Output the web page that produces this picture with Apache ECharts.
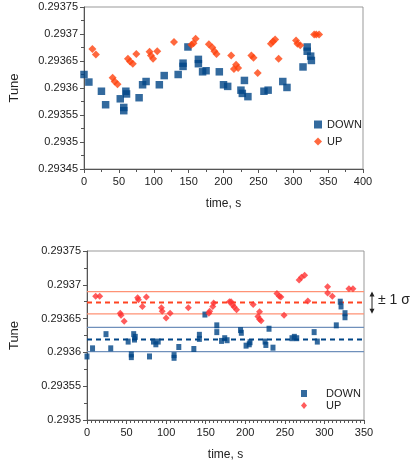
<!DOCTYPE html>
<html>
<head>
<meta charset="utf-8">
<script src="https://cdn.jsdelivr.net/npm/echarts@6/dist/echarts.min.js"></script>
<style>
html,body{margin:0;padding:0;background:#fff;}
#chart{width:412px;height:468px;}
</style>
</head>
<body>
<div id="chart"></div>
<script>
// ---- Top chart data: [time s, tune] ----
var topDown = [[0,0.293625],[7,0.293611],[25,0.293594],[31,0.293569],[52,0.29358],[57,0.293564],[57,0.293558],[60,0.293594],[61,0.293589],[79,0.293582],[84,0.293606],[89,0.293612],[108,0.293606],[115,0.293623],[135,0.293625],[142,0.293646],[142,0.29364],[149,0.293676],[164,0.293653],[164,0.293645],[170,0.29363],[175,0.293632],[194,0.29363],[200,0.293606],[206,0.293603],[225,0.293596],[227,0.29359],[230,0.293614],[235,0.293584],[258,0.293594],[264,0.293596],[285,0.293612],[291,0.293601],[314,0.293639],[320,0.293676],[320,0.293668],[325,0.293659],[326,0.293651]];
var topUp = [[12,0.293672],[17,0.293662],[41,0.293619],[44,0.293612],[48,0.293607],[63,0.293654],[66,0.293649],[70,0.293645],[75,0.293663],[94,0.293667],[96,0.29366],[99,0.293654],[105,0.293668],[129,0.293685],[154,0.29368],[157,0.293683],[160,0.293691],[179,0.293681],[184,0.293675],[187,0.293668],[190,0.293663],[211,0.29366],[215,0.293635],[218,0.293643],[221,0.293637],[240,0.29366],[243,0.293656],[249,0.293628],[268,0.293682],[271,0.293686],[274,0.29369],[279,0.293654],[304,0.293688],[306,0.293682],[310,0.293679],[330,0.293699],[333,0.293699],[337,0.293699]];

// ---- Bottom chart data ----
var botDown = [[0,0.293594],[7,0.293606],[24,0.293627],[30,0.293606],[52,0.293616],[56,0.293597],[56,0.293593],[59,0.293627],[61,0.293623],[60,0.293619],[79,0.293594],[84,0.293616],[87,0.293612],[90,0.293616],[110,0.293596],[110,0.293592],[116,0.293608],[135,0.293605],[142,0.293626],[142,0.29362],[149,0.293656],[164,0.29364],[164,0.29363],[170,0.293617],[174,0.293621],[177,0.293618],[194,0.293633],[195,0.293629],[201,0.29361],[205,0.293612],[206,0.293615],[225,0.293616],[226,0.293611],[230,0.293635],[235,0.293607],[259,0.293621],[262,0.293623],[265,0.293621],[287,0.29363],[291,0.293616],[315,0.29364],[320,0.293675],[321,0.293668],[326,0.293658],[326,0.293652]];
var botUp = [[11,0.293683],[16,0.293683],[42,0.293658],[43,0.293655],[47,0.293646],[64,0.293681],[65,0.293678],[70,0.293668],[75,0.293682],[94,0.293666],[95,0.293661],[100,0.293651],[105,0.293658],[128,0.293666],[154,0.293658],[155,0.293661],[159,0.293668],[160,0.293673],[180,0.293675],[182,0.293675],[184,0.29367],[186,0.293667],[189,0.293663],[210,0.293671],[216,0.293653],[218,0.29366],[218,0.293649],[220,0.293647],[240,0.293687],[243,0.293683],[245,0.293682],[249,0.293655],[268,0.293707],[271,0.293711],[275,0.293714],[279,0.293676],[304,0.293697],[304,0.293688],[310,0.293683],[331,0.293694],[336,0.293694]];

// mean and +/- 1 sigma levels: [upper, mean, lower]
var upLevels = [0.29369, 0.293674, 0.293657];
var downLevels = [0.293637, 0.293619, 0.293601];

// axes
var topYMin = 0.29345, topYMax = 0.29375, topXMax = 400;
var botYMin = 0.2935, botYMax = 0.29375, botXMax = 350;
var yStep = 0.00005, xStep = 50;
var seriesNames = ['DOWN', 'UP'];
var sigmaLabel = '± 1 σ';

var BLUE = '#004586', ORANGE = '#ff420e', RED = '#ff3333';
var FONT = 'Liberation Sans, Arial, sans-serif';
var TXT = '#222';

function yFmt(v){ return String(+v.toFixed(5)); }

function xAx(idx, max, minorSplit, gap){
  return {
    type:'value', gridIndex: idx, min:0, max:max, interval:xStep,
    name:'time, s', nameLocation:'middle', nameGap:gap,
    nameTextStyle:{fontFamily:FONT, fontSize:12, color:TXT},
    axisLine:{show:true, lineStyle:{color:'#555', width:1}},
    axisTick:{show:true, length:4, lineStyle:{color:'#555'}},
    minorTick:{show:true, splitNumber:minorSplit, length:3, lineStyle:{color:'#555'}},
    axisLabel:{fontFamily:FONT, fontSize:11, color:TXT, margin:7},
    splitLine:{show:false}
  };
}
function yAx(idx, min, max, gap){
  return {
    type:'value', gridIndex: idx, min:min, max:max, interval:yStep,
    name:'Tune', nameLocation:'middle', nameGap:gap, nameRotate:90,
    nameTextStyle:{fontFamily:FONT, fontSize:13, color:TXT},
    axisLine:{show:true, lineStyle:{color:'#555', width:1}},
    axisTick:{show:true, length:4, lineStyle:{color:'#555'}},
    minorTick:{show:true, splitNumber:2, length:3, lineStyle:{color:'#555'}},
    axisLabel:{fontFamily:FONT, fontSize:11, color:TXT, margin:6, formatter:yFmt},
    splitLine:{show:false}
  };
}

// horizontal level lines drawn as line series across the bottom plot
function levelSeries(level, color, dashed){
  return {
    type:'line', xAxisIndex:1, yAxisIndex:1, silent:true, symbol:'none', z:2,
    data:[[0, level], [botXMax, level]],
    lineStyle:{color:color, width: dashed ? 2 : 1.2, type: dashed ? [5,4] : 'solid'},
    tooltip:{show:false}
  };
}

var chart = echarts.init(document.getElementById('chart'), null, {renderer:'canvas'});
var series = [
  {name:seriesNames[0], type:'scatter', xAxisIndex:0, yAxisIndex:0, data:topDown,
   symbol:'rect', symbolSize:7.5, itemStyle:{color:BLUE}, z:3},
  {name:seriesNames[1], type:'scatter', xAxisIndex:0, yAxisIndex:0, data:topUp,
   symbol:'diamond', symbolSize:8, itemStyle:{color:ORANGE}, z:3},
  levelSeries(upLevels[0], '#ff9275', false),
  levelSeries(upLevels[1], '#ff4422', true),
  levelSeries(upLevels[2], '#ff9275', false),
  levelSeries(downLevels[0], '#6f90bb', false),
  levelSeries(downLevels[1], BLUE, true),
  levelSeries(downLevels[2], '#6f90bb', false),
  {name:seriesNames[0], type:'scatter', xAxisIndex:1, yAxisIndex:1, data:botDown,
   symbol:'rect', symbolSize:[5,6], itemStyle:{color:BLUE}, z:4},
  {name:seriesNames[1], type:'scatter', xAxisIndex:1, yAxisIndex:1, data:botUp,
   symbol:'diamond', symbolSize:7, itemStyle:{color:RED}, z:4}
];
var option = {
  animation:false,
  backgroundColor:'#fff',
  textStyle:{fontFamily:FONT},
  grid:[
    {left:75, top:7, width:288, height:162, show:true, borderColor:'#999', borderWidth:1, backgroundColor:'transparent'},
    {left:77, top:251, width:287, height:169, show:true, borderColor:'#999', borderWidth:1, backgroundColor:'transparent'}
  ],
  xAxis:[ xAx(0, topXMax, 2, 29), xAx(1, botXMax, 10, 29) ],
  yAxis:[ yAx(0, topYMin, topYMax, 63), yAx(1, botYMin, botYMax, 66) ],
  legend:[
    {
      orient:'vertical', left:309, top:114, itemWidth:8, itemHeight:8, itemGap:6,
      textStyle:{fontFamily:FONT, fontSize:11, color:TXT},
      data:[
        {name:seriesNames[0], icon:'rect', itemStyle:{color:BLUE}},
        {name:seriesNames[1], icon:'diamond', itemStyle:{color:ORANGE}}
      ]
    },
    {
      orient:'vertical', left:296, top:383, itemWidth:6, itemHeight:7, itemGap:1,
      textStyle:{fontFamily:FONT, fontSize:11, color:TXT, padding:[0,0,0,14]},
      data:[
        {name:seriesNames[0], icon:'rect', itemStyle:{color:BLUE}},
        {name:seriesNames[1], icon:'diamond', itemStyle:{color:RED}}
      ]
    }
  ],
  series:series
};
chart.setOption(option);

// sigma annotation: double arrow spanning the UP +/- 1 sigma band, placed right of the plot
var yTop = chart.convertToPixel({yAxisIndex:1}, upLevels[0]);
var yBot = chart.convertToPixel({yAxisIndex:1}, upLevels[2]);
var yMid = chart.convertToPixel({yAxisIndex:1}, upLevels[1]);
var ax = 372;
chart.setOption({
  graphic:[
    {type:'line', shape:{x1:ax, y1:yTop+2, x2:ax, y2:yBot-2}, style:{stroke:'#222', lineWidth:1}},
    {type:'polygon', shape:{points:[[ax,yTop],[ax-2.5,yTop+5],[ax+2.5,yTop+5]]}, style:{fill:'#222'}},
    {type:'polygon', shape:{points:[[ax,yBot],[ax-2.5,yBot-5],[ax+2.5,yBot-5]]}, style:{fill:'#222'}},
    {type:'text', left:378, top:yMid-9, style:{text:sigmaLabel, font:'14px ' + FONT, fill:'#222'}}
  ]
});
</script>
</body>
</html>
